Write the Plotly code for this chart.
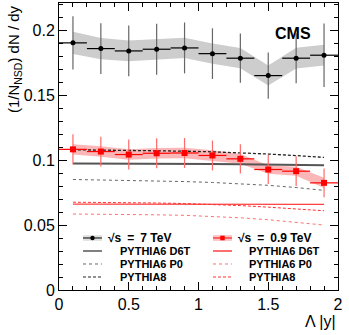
import plotly.graph_objects as go

# |y| bin centres (bins of width 0.2)
y_bins = [0.1, 0.3, 0.5, 0.7, 0.9, 1.1, 1.3, 1.5, 1.7, 1.9]
half_bin = [0.1] * 10

# sqrt(s) = 7 TeV data
dndy_7 = [0.1903, 0.1859, 0.1841, 0.1854, 0.1864, 0.1820, 0.1785, 0.1651, 0.1785, 0.1808]
stat_7 = [0.0205, 0.0195, 0.0196, 0.0197, 0.0196, 0.0195, 0.0190, 0.0178, 0.0192, 0.0244]
sys_7 = [0.0085, 0.0082, 0.0080, 0.0080, 0.0078, 0.0078, 0.0078, 0.0077, 0.0080, 0.0080]

# sqrt(s) = 0.9 TeV data
dndy_09 = [0.1083, 0.1066, 0.1043, 0.1053, 0.1055, 0.1036, 0.1010, 0.0928, 0.0915, 0.0825]
stat_09 = [0.0116, 0.0115, 0.0115, 0.0115, 0.0115, 0.0115, 0.0113, 0.0112, 0.0115, 0.0110]
sys_09 = [0.0040, 0.0040, 0.0040, 0.0040, 0.0040, 0.0040, 0.0038, 0.0032, 0.0035, 0.0040]

# PYTHIA predictions, 7 TeV
d6t_7 = [0.0975, 0.0975, 0.0974, 0.0973, 0.0972, 0.0970, 0.0968, 0.0966, 0.0963, 0.0960]
p0_7 = [0.0851, 0.0848, 0.0845, 0.0841, 0.0835, 0.0828, 0.0818, 0.0806, 0.0789, 0.0767]
py8_7 = [0.1080, 0.1078, 0.1076, 0.1073, 0.1069, 0.1064, 0.1057, 0.1047, 0.1035, 0.1021]

# PYTHIA predictions, 0.9 TeV
d6t_09 = [0.0662, 0.0662, 0.0662, 0.0662, 0.0661, 0.0661, 0.0661, 0.0660, 0.0660, 0.0659]
p0_09 = [0.0585, 0.0584, 0.0582, 0.0579, 0.0575, 0.0567, 0.0556, 0.0541, 0.0522, 0.0500]
py8_09 = [0.0676, 0.0675, 0.0673, 0.0670, 0.0666, 0.0659, 0.0650, 0.0638, 0.0625, 0.0610]

FONT = "Liberation Sans, Arial, sans-serif"
SHORT_DASH = "3px,2px"

fig = go.Figure()


def add_band(vals, sys, color):
    lo = [v - s for v, s in zip(vals, sys)]
    hi = [v + s for v, s in zip(vals, sys)]
    fig.add_trace(go.Scatter(x=y_bins, y=lo, mode="lines", line=dict(width=0),
                             hoverinfo="skip", showlegend=False))
    fig.add_trace(go.Scatter(x=y_bins, y=hi, mode="lines", line=dict(width=0),
                             fill="tonexty", fillcolor=color, hoverinfo="skip",
                             showlegend=False))


def add_model(vals, color, dash, width):
    fig.add_trace(go.Scatter(x=y_bins, y=vals, mode="lines", showlegend=False,
                             line=dict(color=color, dash=dash, width=width)))


def note(x, y, text, size, xanchor="center", yanchor="middle", angle=0):
    fig.add_annotation(xref="paper", yref="paper", x=x, y=y, text=text, showarrow=False,
                       xanchor=xanchor, yanchor=yanchor, textangle=angle,
                       font=dict(family=FONT, size=size, color="black"))


add_band(dndy_7, sys_7, "rgb(205,205,205)")
add_band(dndy_09, sys_09, "rgba(250,170,170,0.85)")

add_model(d6t_7, "#555555", "solid", 2)
add_model(p0_7, "#666666", "dot", 1)
add_model(py8_7, "#222222", SHORT_DASH, 1.3)
add_model(d6t_09, "#ff4040", "solid", 1.3)
add_model(p0_09, "#ff7070", "dot", 1)
add_model(py8_09, "#ff3030", SHORT_DASH, 1)

fig.add_trace(go.Scatter(
    x=y_bins, y=dndy_7, mode="markers", showlegend=False,
    marker=dict(color="black", size=5, symbol="circle"),
    error_x=dict(type="data", array=half_bin, width=0, thickness=1.2, color="black"),
    error_y=dict(type="data", array=stat_7, width=0, thickness=1.2, color="#666666"),
))
fig.add_trace(go.Scatter(
    x=y_bins, y=dndy_09, mode="markers", showlegend=False,
    marker=dict(color="red", size=6, symbol="square"),
    error_x=dict(type="data", array=half_bin, width=0, thickness=1.2, color="red"),
    error_y=dict(type="data", array=stat_09, width=0, thickness=1.2, color="#ff6a6a"),
))

# hand-made two column legend (ROOT style)
rows = [0.1812, 0.1359, 0.0906, 0.0453]
legend_cols = [
    dict(x0=0.086, x1=0.154, tx=0.168, px=0.2115, band="rgb(225,225,225)",
         mcol="black", mshape="circle", lines=["#555555", "#666666", "#222222"],
         head="\u221as\u2002=\u20027 TeV"),
    dict(x0=0.552, x1=0.620, tx=0.634, px=0.674, band="rgba(250,180,180,0.8)",
         mcol="red", mshape="rect", lines=["#ff4040", "#ff7070", "#ff3030"],
         head="\u221as\u2002=\u20020.9 TeV"),
]
labels = ["PYTHIA6 D6T", "PYTHIA6 P0", "PYTHIA8"]
dashes = ["solid", "dot", SHORT_DASH]
for col in legend_cols:
    ym = rows[0]
    fig.add_shape(type="rect", xref="paper", yref="paper", x0=col["x0"], x1=col["x1"],
                  y0=ym - 0.01, y1=ym + 0.01, fillcolor=col["band"], line_width=0,
                  layer="above")
    fig.add_shape(type="line", xref="paper", yref="paper", x0=col["x0"], x1=col["x1"],
                  y0=ym, y1=ym, line=dict(color=col["mcol"], width=1), layer="above")
    xm = (col["x0"] + col["x1"]) / 2
    fig.add_shape(type=col["mshape"], xref="paper", yref="paper",
                  x0=xm - 0.008, x1=xm + 0.008, y0=ym - 0.008, y1=ym + 0.008,
                  fillcolor=col["mcol"], line_width=0, layer="above")
    note(col["tx"], ym, "<b>" + col["head"] + "</b>", 12, xanchor="left")
    for i, lab in enumerate(labels):
        yy = rows[i + 1]
        fig.add_shape(type="line", xref="paper", yref="paper", x0=col["x0"], x1=col["x1"],
                      y0=yy, y1=yy, layer="above",
                      line=dict(color=col["lines"][i], dash=dashes[i],
                                width=1.5 if i == 0 else 1))
        note(col["px"], yy, "<b>" + lab + "</b>", 11, xanchor="left")

note(0.839, 0.895, "<b>CMS</b>", 16)
note(-0.161, 1.0, "(1/N<sub>NSD</sub>) dN / dy", 15, yanchor="top", angle=-90)
note(1.0, -0.111, "\u039b |y|", 16, xanchor="right")

axis_style = dict(showline=True, linecolor="black", linewidth=1, mirror="allticks",
                  ticks="inside", ticklen=8, tickcolor="black", showgrid=False,
                  zeroline=False, tickfont=dict(family=FONT, size=16, color="black"))

fig.update_xaxes(range=[0, 2], dtick=0.5, tick0=0,
                 minor=dict(dtick=0.1, ticklen=4, ticks="inside", tickcolor="black"),
                 **axis_style)
fig.update_yaxes(range=[0, 0.221], dtick=0.05, tick0=0,
                 minor=dict(dtick=0.01, ticklen=4, ticks="inside", tickcolor="black"),
                 **axis_style)

fig.update_layout(
    width=349, height=335,
    margin=dict(l=59, r=11, t=3, b=45),
    paper_bgcolor="white",
    plot_bgcolor="white",
    showlegend=False,
    font=dict(family=FONT, color="black"),
)

fig.write_html("out.html", config={"displayModeBar": False},
               post_script="document.body.style.margin='0';"
                           "document.body.style.overflow='hidden';")
